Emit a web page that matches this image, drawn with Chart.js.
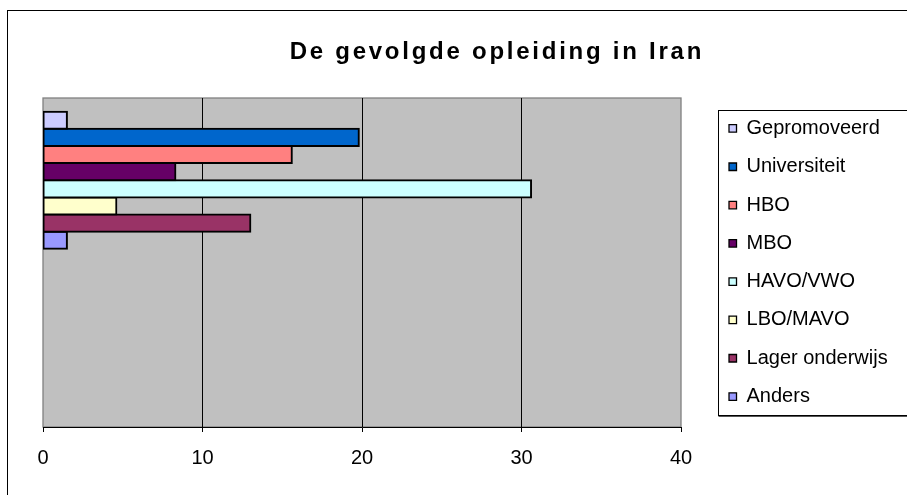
<!DOCTYPE html>
<html>
<head>
<meta charset="utf-8">
<script src="https://cdn.jsdelivr.net/npm/chart.js@4/dist/chart.umd.min.js"></script>
<style>
  html, body { margin: 0; padding: 0; overflow: hidden; background: #ffffff; }
  canvas { display: block; }
</style>
</head>
<body>
<canvas id="chart" width="997" height="495"></canvas>
<script>
// Data
const chartTitle = 'De gevolgde opleiding in Iran';
const categories = ['Iran', ''];
const seriesNames = ['Gepromoveerd', 'Universiteit', 'HBO', 'MBO', 'HAVO/VWO', 'LBO/MAVO', 'Lager onderwijs', 'Anders'];
const seriesValues = [1.5, 19.8, 15.6, 8.3, 30.6, 4.6, 13.0, 1.5];
const seriesColors = ['#CCCCFF', '#0066CC', '#FF8080', '#660066', '#CCFFFF', '#FFFFCC', '#993366', '#9999FF'];
const xTicks = [0, 10, 20, 30, 40];

const FONT = '"Liberation Sans", Arial, sans-serif';
Chart.defaults.font.family = FONT;
Chart.defaults.font.size = 20;
Chart.defaults.color = '#000000';

const datasets = seriesNames.map((name, i) => ({
  label: name,
  data: categories.map((c, j) => (j === 0 ? seriesValues[i] : null)),
  backgroundColor: seriesColors[i],
  borderColor: '#000000',
  borderWidth: 2,
  borderSkipped: false,
  inflateAmount: 1,
  categoryPercentage: 0.833,
  barPercentage: 1.0
}));

// Outer frame, grey plot area with its border, framed legend
const frame = {
  id: 'frame',
  beforeDraw(chart) {
    const { ctx, chartArea: a, width, height } = chart;
    ctx.save();
    ctx.strokeStyle = '#000000';
    ctx.lineWidth = 1;
    ctx.strokeRect(7.5, 10.5, width - 15, height + 20);
    ctx.fillStyle = '#C0C0C0';
    ctx.fillRect(a.left, a.top, a.right - a.left, a.bottom - a.top);
    ctx.strokeStyle = '#808080';
    ctx.lineWidth = 1.3;
    ctx.strokeRect(a.left, a.top, a.right - a.left, a.bottom - a.top);
    ctx.restore();

    // title: wider letter spacing, centred over the whole chart frame
    const t = chart.titleBlock;
    if (t && !t._spaced) {
      const draw = t.draw.bind(t);
      t.draw = (area) => {
        chart.ctx.save();
        chart.ctx.letterSpacing = '2.75px';
        chart.ctx.translate(26.5, 0);
        draw(area);
        chart.ctx.restore();
      };
      t._spaced = true;
    }
  },
  afterDraw(chart) {
    const lg = chart.legend;
    const boxes = lg && lg.legendHitBoxes;
    if (!boxes || !boxes.length) return;
    const first = boxes[0], last = boxes[boxes.length - 1];
    const { ctx, width } = chart;
    ctx.save();
    ctx.strokeStyle = '#000000';
    ctx.lineWidth = 1;
    const x = Math.round(first.left - 10) - 0.5;
    const y = Math.round(first.top - 8) + 0.5;
    const b = Math.round(last.top + last.height + 8) + 0.5;
    ctx.strokeRect(x, y, width, b - y);
    ctx.strokeStyle = '#555555';
    ctx.beginPath();
    ctx.moveTo(x, b + 1);
    ctx.lineTo(width, b + 1);
    ctx.stroke();
    ctx.restore();
  }
};

new Chart(document.getElementById('chart'), {
  type: 'bar',
  data: { labels: categories, datasets },
  options: {
    indexAxis: 'y',
    responsive: false,
    animation: false,
    devicePixelRatio: 1,
    layout: { padding: { left: 43, right: 99.3, top: 0, bottom: 11 } },
    plugins: {
      title: {
        display: true,
        text: chartTitle,
        color: '#000000',
        font: { family: FONT, size: 24, weight: 'bold', lineHeight: 1.2 },
        padding: { top: 37.6, bottom: 31.6 }
      },
      legend: {
        display: true,
        position: 'right',
        fullSize: false,
        align: 'center',
        labels: {
          boxWidth: 7.5,
          boxHeight: 7.5,
          padding: 18.3,
          color: '#000000',
          font: { family: FONT, size: 20, lineHeight: 1.0 },
          generateLabels(chart) {
            const items = Chart.defaults.plugins.legend.labels.generateLabels(chart);
            items.forEach(it => { it.lineWidth = 1.3; it.strokeStyle = '#000000'; });
            return items;
          }
        }
      },
      tooltip: { enabled: false }
    },
    scales: {
      x: {
        type: 'linear',
        min: xTicks[0],
        max: xTicks[xTicks.length - 1],
        ticks: {
          stepSize: xTicks[1] - xTicks[0],
          padding: 14,
          color: '#000000',
          font: { family: FONT, size: 20, lineHeight: 1.2 }
        },
        grid: {
          color: (c) => (c.tick && (c.tick.value === xTicks[0] || c.tick.value === xTicks[xTicks.length - 1])) ? 'rgba(0,0,0,0)' : '#000000',
          lineWidth: 1,
          tickLength: 5,
          tickColor: '#000000',
          tickWidth: 1
        },
        border: { display: true, color: '#000000', width: 1 }
      },
      y: {
        position: 'right',
        grid: { display: false },
        border: { display: false },
        ticks: { display: false },
        afterFit(scale) { scale.width = 29.7; }
      }
    }
  },
  plugins: [frame]
});
</script>
</body>
</html>
